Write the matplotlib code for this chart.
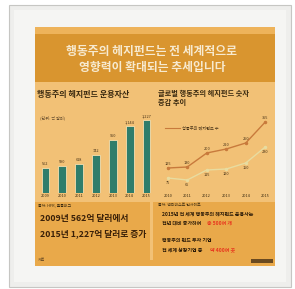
import matplotlib.pyplot as plt
import matplotlib.patches as mpatches

plt.rcParams['font.family'] = ['Noto Sans CJK KR', 'DejaVu Sans']

# data
bar_years = ['2009', '2010', '2011', '2012', '2013', '2014', '2015']
bar_vals = [562, 590, 618, 742, 950, 1144, 1227]
line_years = ['2010', '2011', '2012', '2013', '2014', '2015']
funds_total = [125, 130, 200, 220, 250, 355]
funds_new = [75, 65, 115, 120, 150, 230]

W, H = 295, 289
fig = plt.figure(figsize=(W / 100, H / 100), dpi=100)
fig.patch.set_facecolor('white')

bg = fig.add_axes([0, 0, 1, 1])
bg.set_xlim(0, W)
bg.set_ylim(H, 0)
bg.axis('off')

def rect(x, y, w, h, fc, ec='none', lw=0):
    bg.add_patch(mpatches.Rectangle((x, y), w, h, facecolor=fc, edgecolor=ec, linewidth=lw))

# frame
rect(9, 5, 282, 282, '#eeeeec', ec='#c6c6c3', lw=0.8)
rect(14, 10, 272, 272, '#f5f5f3')
# orange board
rect(35, 27, 240, 239, '#e6a547')
rect(35, 27, 240, 7, '#eeb35a')
rect(35, 34, 240, 48, '#d9952f')
rect(35, 82, 240, 120, '#f2c176')
rect(35, 202, 240, 64, '#e9a94a')
rect(150, 202, 3, 58, '#f2c176')

# title
bg.text(152, 52, '행동주의 헤지펀드는 전 세계적으로', color='#f7ead0', fontsize=8.5,
        fontweight='bold', ha='center', va='center')
bg.text(152, 68, '영향력이 확대되는 추세입니다', color='#f7ead0', fontsize=8.5,
        fontweight='bold', ha='center', va='center')

# subtitles
bg.text(37, 95, '행동주의 헤지펀드 운용자산', color='#3a2a10', fontsize=5.8,
        fontweight='bold', ha='left', va='center')
bg.text(158, 93, '글로벌 행동주의 헤지펀드 숫자', color='#3a2a10', fontsize=5.2,
        fontweight='bold', ha='left', va='center')
bg.text(158, 103, '증감 추이', color='#3a2a10', fontsize=5.2,
        fontweight='bold', ha='left', va='center')
bg.text(40, 118, '(단위: 억 달러)', color='#6a5030', fontsize=3, ha='left', va='center')

# bar chart
ax1 = fig.add_axes([37 / W, 1 - 193 / H, 118 / W, 83 / H])
ax1.set_facecolor('none')
xs = range(len(bar_vals))
ax1.bar(xs, bar_vals, width=0.45, color='#2f7d6b', edgecolor='#f6dfb0', linewidth=0.6)
for x, v in zip(xs, bar_vals):
    ax1.text(x, v + 25, f'{v:,}', color='#4a3418', fontsize=2.8, ha='center', va='bottom')
ax1.set_xlim(-0.5, 6.5)
ax1.set_ylim(216, 1366)
ax1.set_xticks(list(xs))
ax1.set_xticklabels(bar_years, fontsize=2.8, color='#3a2a10')
ax1.tick_params(length=0, pad=1)
ax1.set_yticks([])
for s in ax1.spines.values():
    s.set_visible(False)

# line chart
ax2 = fig.add_axes([158 / W, 1 - 193 / H, 117 / W, 83 / H])
ax2.set_facecolor('none')
lx = range(len(funds_total))
ax2.plot(lx, funds_total, color='#c87a3c', lw=1.0, marker='o', ms=1.5)
ax2.plot(lx, funds_new, color='#e8dca0', lw=1.0, marker='o', ms=1.5)
for x, v in zip(lx, funds_total):
    ax2.text(x, v + 12, str(v), color='#4a3418', fontsize=2.8, ha='center', va='bottom')
for x, v in zip(lx, funds_new):
    ax2.text(x, v - 14, str(v), color='#4a3418', fontsize=2.8, ha='center', va='top')
ax2.set_xlim(-0.5, 5.5)
ax2.set_ylim(0, 415)
ax2.set_xticks(list(lx))
ax2.set_xticklabels(line_years, fontsize=2.8, color='#3a2a10')
ax2.tick_params(length=0, pad=1)
ax2.set_yticks([])
for s in ax2.spines.values():
    s.set_visible(False)
bg.plot([165, 180], [128, 128], color='#c87a3c', lw=0.8)
bg.text(182, 128, '행동주의 헤지펀드 수', color='#4a3418', fontsize=3, ha='left', va='center')

# sources
bg.text(38, 205, '출처: HFR, 블룸버그', color='#3a2a10', fontsize=2.8, ha='left', va='center')
bg.text(158, 205, '출처: 액티비스트 인사이트', color='#3a2a10', fontsize=2.8, ha='left', va='center')

# bottom left text
bg.text(40, 218, '2009년 562억 달러에서', color='#3a2008', fontsize=6.3,
        fontweight='bold', ha='left', va='center')
bg.text(40, 234, '2015년 1,227억 달러로 증가', color='#3a2008', fontsize=6.3,
        fontweight='bold', ha='left', va='center')

# bottom right text
bg.text(162, 214, '2015년 전 세계 행동주의 헤지펀드 운용사는', color='#2a1a08', fontsize=3.6,
        fontweight='bold', ha='left', va='center')
bg.text(162, 223, '전년 대비 증가하여', color='#2a1a08', fontsize=3.6,
        fontweight='bold', ha='left', va='center')
bg.text(207, 223, '총 500여 개', color='#e8361e', fontsize=3.6,
        fontweight='bold', ha='left', va='center')
bg.text(162, 241, '행동주의 펀드 투자 기업', color='#2a1a08', fontsize=3.6,
        fontweight='bold', ha='left', va='center')
bg.text(162, 250, '전 세계 상장기업 중', color='#2a1a08', fontsize=3.6,
        fontweight='bold', ha='left', va='center')
bg.text(210, 250, '약 400여 곳', color='#e8361e', fontsize=3.6,
        fontweight='bold', ha='left', va='center')

bg.text(38, 260, '자료', color='#5a4020', fontsize=2.8, ha='left', va='center')
rect(251, 259, 22, 4, '#6a4a20')

fig.savefig('out.png', dpi=100)
